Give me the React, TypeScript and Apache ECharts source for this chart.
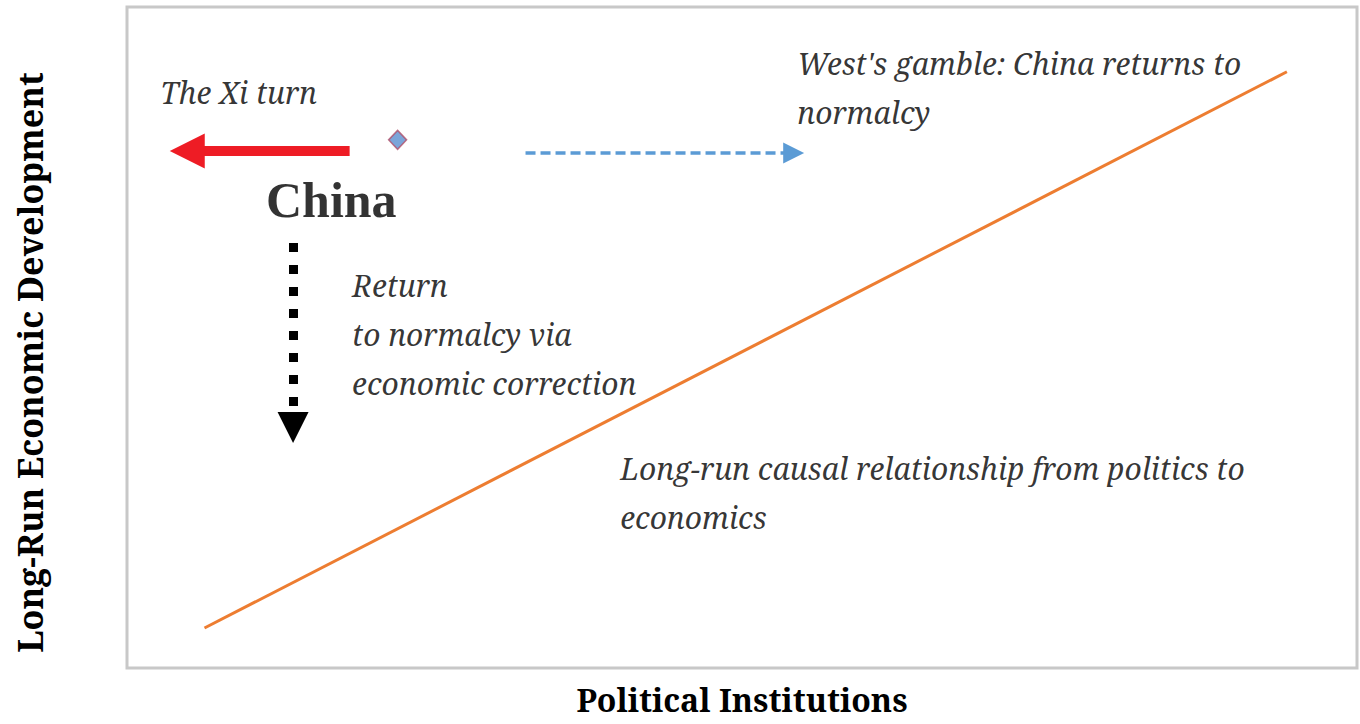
import React, { useEffect, useRef } from "react";
import * as echarts from "echarts";

// Axis titles
const xAxisTitle = "Political Institutions";
const yAxisTitle = "Long-Run Economic Development";

// Long-run relationship line (politics -> economics)
const trendLine: [number, number][] = [
  [6.3, 6.05],
  [94.3, 90.2],
];

// China's position
const chinaPoint: [number, number][] = [[22.0, 79.9]];

// Arrows: [from, to]
const xiTurnArrow: [number, number][] = [
  [18.1, 78.2],
  [4.9, 78.2],
];
const westGambleArrow: [number, number][] = [
  [32.4, 77.9],
  [54.2, 77.9],
];
const correctionArrow: [number, number][] = [
  [13.5, 64.3],
  [13.5, 36.4],
];

// Annotations: [x, y, text]
const italicNotes: [number, number, string][] = [
  [2.7, 87.0, "The Xi turn"],
  [18.3, 50.4, "Return\nto normalcy via\neconomic correction"],
  [54.5, 87.7, "West's gamble: China returns to\nnormalcy"],
  [40.1, 26.5, "Long-run causal relationship from politics to\neconomics"],
];
const boldNotes: [number, number, string][] = [[11.3, 70.8, "China"]];

const italicFont = "'Noto Serif', serif";
const titleFont = "'Noto Serif', serif";
const chinaFont = "'Liberation Serif', serif";

export default function App() {
  const ref = useRef<HTMLDivElement>(null);
  useEffect(() => {
    if (!ref.current) return;
    const chart = echarts.init(ref.current, undefined, { renderer: "svg" });
    const hiddenAxis = {
      type: "value" as const,
      min: 0,
      max: 100,
      axisLine: { show: false },
      axisTick: { show: false },
      axisLabel: { show: false },
      splitLine: { show: false },
      nameLocation: "middle" as const,
    };
    chart.setOption({
      animation: false,
      backgroundColor: "#ffffff",
      grid: {
        left: 127,
        top: 7,
        right: 3,
        bottom: 56,
        containLabel: false,
        outerBoundsMode: "none",
        show: true,
        borderColor: "#c8c8c8",
        borderWidth: 3,
        backgroundColor: "#ffffff",
      },
      xAxis: {
        ...hiddenAxis,
        name: xAxisTitle,
        nameGap: 15,
        nameTextStyle: { fontFamily: titleFont, fontWeight: "bold", fontSize: 32, color: "#000" },
      },
      yAxis: {
        ...hiddenAxis,
        name: yAxisTitle,
        nameGap: 80,
        nameTextStyle: {
          fontFamily: titleFont,
          fontWeight: "bold",
          fontSize: 34,
          color: "#000",
          padding: [0, 50, 0, 0],
        },
      },
      series: [
        {
          type: "line",
          data: trendLine,
          symbol: "none",
          lineStyle: { color: "#ed7d31", width: 3 },
        },
        {
          type: "scatter",
          data: chinaPoint,
          symbol: "diamond",
          symbolSize: [18, 19],
          itemStyle: { color: "#5b8fd0", borderColor: "#b0506a", borderWidth: 1.5 },
        },
        {
          type: "lines",
          coordinateSystem: "cartesian2d",
          symbol: ["none", "triangle"],
          symbolSize: [34, 35],
          lineStyle: { color: "#ee1c25", width: 10, opacity: 1, cap: "butt" },
          data: [{ coords: xiTurnArrow }],
        },
        {
          type: "lines",
          coordinateSystem: "cartesian2d",
          symbol: ["none", "triangle"],
          symbolSize: [21, 21],
          lineStyle: { color: "#5b9bd5", width: 3.5, opacity: 1, type: [10, 5], cap: "butt" },
          data: [{ coords: westGambleArrow }],
        },
        {
          type: "lines",
          coordinateSystem: "cartesian2d",
          symbol: ["none", "triangle"],
          symbolSize: [32, 31],
          lineStyle: { color: "#000000", width: 9, opacity: 1, type: [9, 13], cap: "butt" },
          data: [{ coords: correctionArrow }],
        },
        {
          type: "scatter",
          symbolSize: 0,
          silent: true,
          data: italicNotes.map((n) => ({ value: [n[0], n[1]], name: n[2] })),
          label: {
            show: true,
            position: "right",
            distance: 0,
            formatter: (p: any) => p.name,
            fontFamily: italicFont,
            fontStyle: "italic",
            fontSize: 30,
            lineHeight: 49,
            color: "#000",
            align: "left",
          },
        },
        {
          type: "scatter",
          symbolSize: 0,
          silent: true,
          data: boldNotes.map((n) => ({ value: [n[0], n[1]], name: n[2] })),
          label: {
            show: true,
            position: "right",
            distance: 0,
            formatter: (p: any) => p.name,
            fontFamily: chinaFont,
            fontWeight: "bold",
            fontSize: 50,
            color: "#000",
          },
        },
      ],
    });
    return () => chart.dispose();
  }, []);
  return <div ref={ref} style={{ position: "fixed", left: 0, top: 0, width: 1360, height: 724 }} />;
}
